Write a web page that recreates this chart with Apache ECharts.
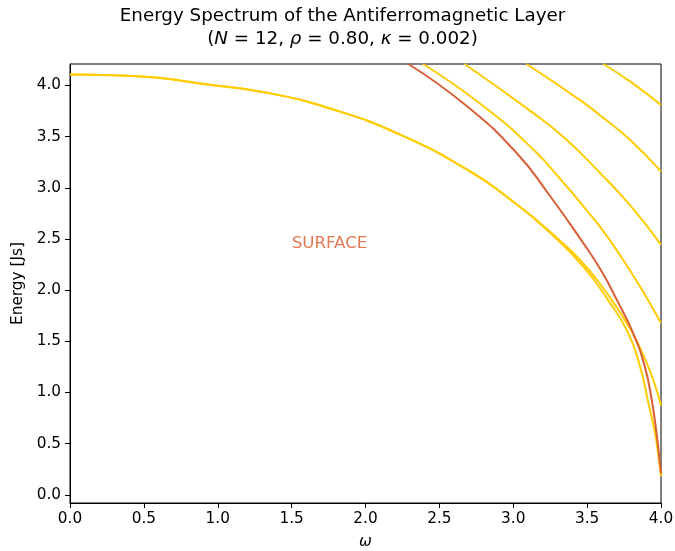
<!DOCTYPE html>
<html>
<head>
<meta charset="utf-8">
<script src="https://cdn.jsdelivr.net/npm/echarts@6/dist/echarts.min.js"></script>
<style>
  html, body { margin: 0; padding: 0; background: #fff; }
  #chart { width: 675px; height: 551px; }
</style>
</head>
<body>
<div id="chart"></div>
<script>
// tick labels
var xTicks = [0, 0.5, 1, 1.5, 2, 2.5, 3, 3.5, 4];
var yTicks = [0, 0.5, 1, 1.5, 2, 2.5, 3, 3.5, 4];

// bulk modes, [omega, energy]
var lowerA = [[0, 4.108], [0.3, 4.10], [0.6, 4.075], [0.88, 4.02], [1.331, 3.93], [1.782, 3.765],
  [2.234, 3.52], [2.685, 3.18], [3.023, 2.84], [3.249, 2.57], [3.474, 2.26], [3.665, 1.907],
  [3.80, 1.60], [3.90, 1.30], [3.96, 1.07], [4.0, 0.87]];
var lowerB = [[0, 4.108], [0.3, 4.10], [0.6, 4.075], [0.88, 4.02], [1.331, 3.93], [1.782, 3.765],
  [2.234, 3.52], [2.685, 3.18], [3.023, 2.84], [3.249, 2.56], [3.474, 2.23], [3.64, 1.907],
  [3.777, 1.584], [3.858, 1.255], [3.91, 0.929], [3.96, 0.6], [3.985, 0.35], [4.0, 0.18]];
var band1 = [[2.39, 4.21], [2.797, 3.80], [3.136, 3.374], [3.361, 3.015], [3.48, 2.81],
  [3.587, 2.62], [3.71, 2.37], [3.86, 2.03], [4.0, 1.68]];
var band2 = [[2.67, 4.21], [3.136, 3.73], [3.361, 3.47], [3.587, 3.146], [3.79, 2.83], [4.0, 2.445]];
var band3 = [[3.09, 4.21], [3.45, 3.86], [3.587, 3.71], [3.79, 3.47], [4.0, 3.16]];
var band4 = [[3.61, 4.21], [3.80, 4.03], [4.0, 3.81]];

// surface mode
var surface = [[2.29, 4.21], [2.685, 3.80], [3.023, 3.34], [3.249, 2.92], [3.474, 2.46],
  [3.60, 2.18], [3.70, 1.907], [3.81, 1.584], [3.89, 1.255], [3.937, 0.929],
  [3.97, 0.6], [3.99, 0.35], [4.0, 0.21]];
var surfaceLabel = [[1.5, 2.4]];

var yellow = '#ffcc00';
var red = '#d95f37';
var font = 'DejaVu Sans';

function mode(data, color) {
    return {
        type: 'line',
        data: data,
        showSymbol: false,
        smooth: 0.5,
        lineStyle: {color: color, width: 2},
        silent: true
    };
}

var chart = echarts.init(document.getElementById('chart'));
var option = {
    animation: false,
    backgroundColor: '#fff',
    title: {
        text: 'Energy Spectrum of the Antiferromagnetic Layer\n({i|N} = 12, {i|ρ} = 0.80, {i|κ} = 0.002)',
        left: 337.5,
        top: 0,
        textAlign: 'center',
        textStyle: {
            fontFamily: font,
            fontSize: 18.3,
            fontWeight: 'normal',
            color: '#000',
            lineHeight: 23,
            rich: {
                i: {fontFamily: font, fontSize: 18.3, fontStyle: 'italic', color: '#000', lineHeight: 23}
            }
        }
    },
    grid: {
        left: 70, right: 14, top: 64, bottom: 48,
        outerBoundsMode: 'none',
        containLabel: false,
        show: true, borderColor: '#000', borderWidth: 1
    },
    xAxis: {
        type: 'value',
        min: 0, max: 4, interval: 0.5,
        name: 'ω',
        nameLocation: 'middle',
        nameGap: 32,
        nameTextStyle: {fontFamily: font, fontSize: 15.3, fontStyle: 'italic', color: '#000'},
        axisLine: {show: true, onZero: false, lineStyle: {color: '#000', width: 1}},
        axisTick: {show: true, length: 5, lineStyle: {color: '#000'}, customValues: xTicks},
        axisLabel: {
            fontFamily: font, fontSize: 15.3, color: '#000', margin: 9,
            customValues: xTicks,
            formatter: function (v) { return v.toFixed(1); }
        },
        splitLine: {show: false}
    },
    yAxis: {
        type: 'value',
        min: -0.08, max: 4.21,
        name: 'Energy [Js]',
        nameLocation: 'middle',
        nameGap: 44,
        nameTextStyle: {fontFamily: font, fontSize: 15.3, color: '#000'},
        axisLine: {show: true, onZero: false, lineStyle: {color: '#000', width: 1}},
        axisTick: {show: true, length: 5, lineStyle: {color: '#000'}, customValues: yTicks},
        axisLabel: {
            fontFamily: font, fontSize: 15.3, color: '#000', margin: 9,
            customValues: yTicks,
            formatter: function (v) { return v.toFixed(1); }
        },
        splitLine: {show: false}
    },
    series: [
        mode(lowerA, yellow),
        mode(lowerB, yellow),
        mode(band1, yellow),
        mode(band2, yellow),
        mode(band3, yellow),
        mode(band4, yellow),
        mode(surface, red),
        {
            type: 'scatter',
            data: surfaceLabel,
            symbolSize: 0,
            silent: true,
            label: {
                show: true,
                formatter: 'SURFACE',
                position: [0, -6],
                align: 'left',
                verticalAlign: 'middle',
                fontFamily: font,
                fontSize: 16.7,
                color: '#d9562b'
            }
        }
    ]
};
chart.setOption(option);
</script>
</body>
</html>
